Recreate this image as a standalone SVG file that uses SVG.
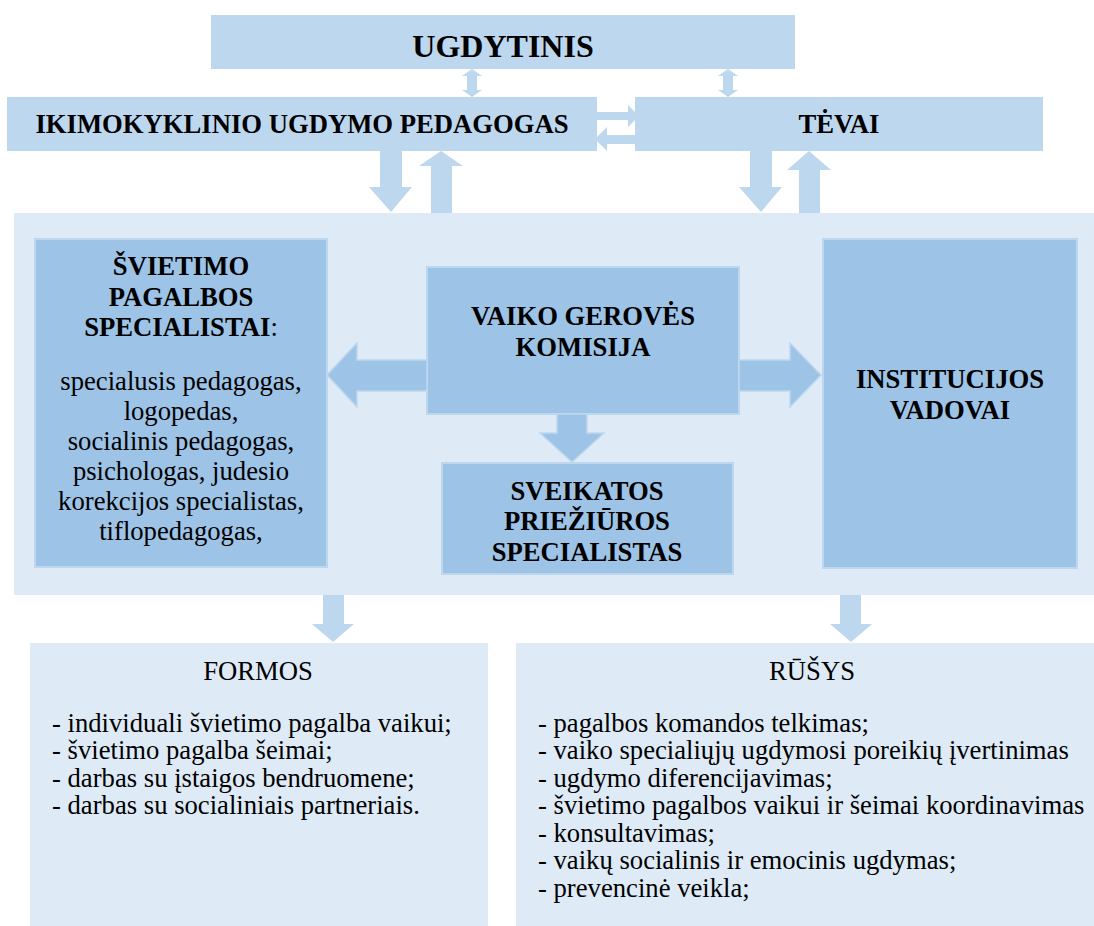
<svg xmlns="http://www.w3.org/2000/svg" width="1094" height="926" viewBox="0 0 1094 926">
<style>
.top{fill:#bdd7ee}
.big{fill:#deebf7}
.inner{fill:#9dc3e6;stroke:#bdd7ee;stroke-width:2}
.arr{fill:#bdd7ee}
.arr2{fill:#9dc3e6;stroke:#bdd7ee;stroke-width:1.5}
text{font-family:"Liberation Serif","Times New Roman",serif;fill:#000;font-size:26.67px}
.b{font-weight:bold}
.c{text-anchor:middle}
</style>
<rect width="1094" height="926" fill="#ffffff"/>
<g id="ugdytinis">
<rect class="top" x="211" y="15" width="584" height="54"/>
<text class="b c" x="503" y="57" style="font-size:32px">UGDYTINIS</text>
</g>
<g id="pedagogas">
<rect class="top" x="7" y="97" width="590" height="54"/>
<text class="b c" x="302" y="133">IKIMOKYKLINIO UGDYMO PEDAGOGAS</text>
</g>
<g id="tevai">
<rect class="top" x="635" y="97" width="408" height="54"/>
<text class="b c" x="839" y="133">TĖVAI</text>
</g>
<g id="komanda">
<rect class="big" x="14" y="213" width="1080" height="382"/>
</g>
<g id="svietimo">
<rect class="inner" x="35" y="239" width="292" height="328"/>
<text class="b c" x="181" y="275">ŠVIETIMO</text>
<text class="b c" x="181" y="306">PAGALBOS</text>
<text class="c" x="181" y="336"><tspan class="b">SPECIALISTAI</tspan>:</text>
<text class="c" x="181" y="390">specialusis pedagogas,</text>
<text class="c" x="181" y="420">logopedas,</text>
<text class="c" x="181" y="450">socialinis pedagogas,</text>
<text class="c" x="181" y="480">psichologas, judesio</text>
<text class="c" x="181" y="510">korekcijos specialistas,</text>
<text class="c" x="181" y="540">tiflopedagogas,</text>
</g>
<g id="vgk">
<rect class="inner" x="427" y="267" width="312" height="147"/>
<text class="b c" x="583" y="325">VAIKO GEROVĖS</text>
<text class="b c" x="583" y="356">KOMISIJA</text>
</g>
<g id="sveikatos">
<rect class="inner" x="442" y="463" width="291" height="111"/>
<text class="b c" x="587" y="500">SVEIKATOS</text>
<text class="b c" x="587" y="530">PRIEŽIŪROS</text>
<text class="b c" x="587" y="561">SPECIALISTAS</text>
</g>
<g id="institucijos">
<rect class="inner" x="823" y="239" width="254" height="329"/>
<text class="b c" x="950" y="388">INSTITUCIJOS</text>
<text class="b c" x="950" y="419">VADOVAI</text>
</g>
<g id="formos">
<rect class="big" x="30" y="643" width="458" height="283"/>
<text class="c" x="258" y="680">FORMOS</text>
<text x="52" y="731.5">- individuali švietimo pagalba vaikui;</text>
<text x="52" y="759">- švietimo pagalba šeimai;</text>
<text x="52" y="786.5">- darbas su įstaigos bendruomene;</text>
<text x="52" y="814">- darbas su socialiniais partneriais.</text>
</g>
<g id="rusys">
<rect class="big" x="516" y="643" width="578" height="283"/>
<text class="c" x="812" y="680">RŪŠYS</text>
<text x="538" y="731.5">- pagalbos komandos telkimas;</text>
<text x="538" y="759">- vaiko specialiųjų ugdymosi poreikių įvertinimas</text>
<text x="538" y="786.5">- ugdymo diferencijavimas;</text>
<text x="538" y="814">- švietimo pagalbos vaikui ir šeimai koordinavimas</text>
<text x="538" y="841.5">- konsultavimas;</text>
<text x="538" y="869">- vaikų socialinis ir emocinis ugdymas;</text>
<text x="538" y="896.5">- prevencinė veikla;</text>
</g>
<g id="connectors">
<polygon class="arr" points="472,69 482,76 477,76 477,90 482,90 472,97 462,90 467,90 467,76 462,76"/>
<polygon class="arr" points="728,69 738,76 733,76 733,90 738,90 728,97 718,90 723,90 723,76 718,76"/>
<polygon class="arr" points="597,112 628,112 628,105 639,116 628,127 628,120 597,120"/>
<polygon class="arr" points="635,135 607,135 607,127 595,139 607,151 607,144 635,144"/>
<polygon class="arr" points="380,151 402,151 402,187 412,187 391,212 369,187 380,187"/>
<polygon class="arr" points="431,213 452,213 452,166 463,166 441,151 419,166 431,166"/>
<polygon class="arr" points="750,151 772,151 772,187 782,187 761,212 739,187 750,187"/>
<polygon class="arr" points="799,213 820,213 820,170 831,170 809,151 787,170 799,170"/>
<polygon class="arr2" points="427,360 357,360 357,343 327,375 357,407 357,391 427,391"/>
<polygon class="arr2" points="739,360 790,360 790,343 821,375 790,407 790,391 739,391"/>
<polygon class="arr2" points="557,414 587,414 587,433 604,433 572,462 540,433 557,433"/>
<polygon class="arr" points="323,595 344,595 344,624 354,624 333,642 312,624 323,624"/>
<polygon class="arr" points="840,595 861,595 861,624 872,624 851,642 830,624 840,624"/>
</g>
</svg>
